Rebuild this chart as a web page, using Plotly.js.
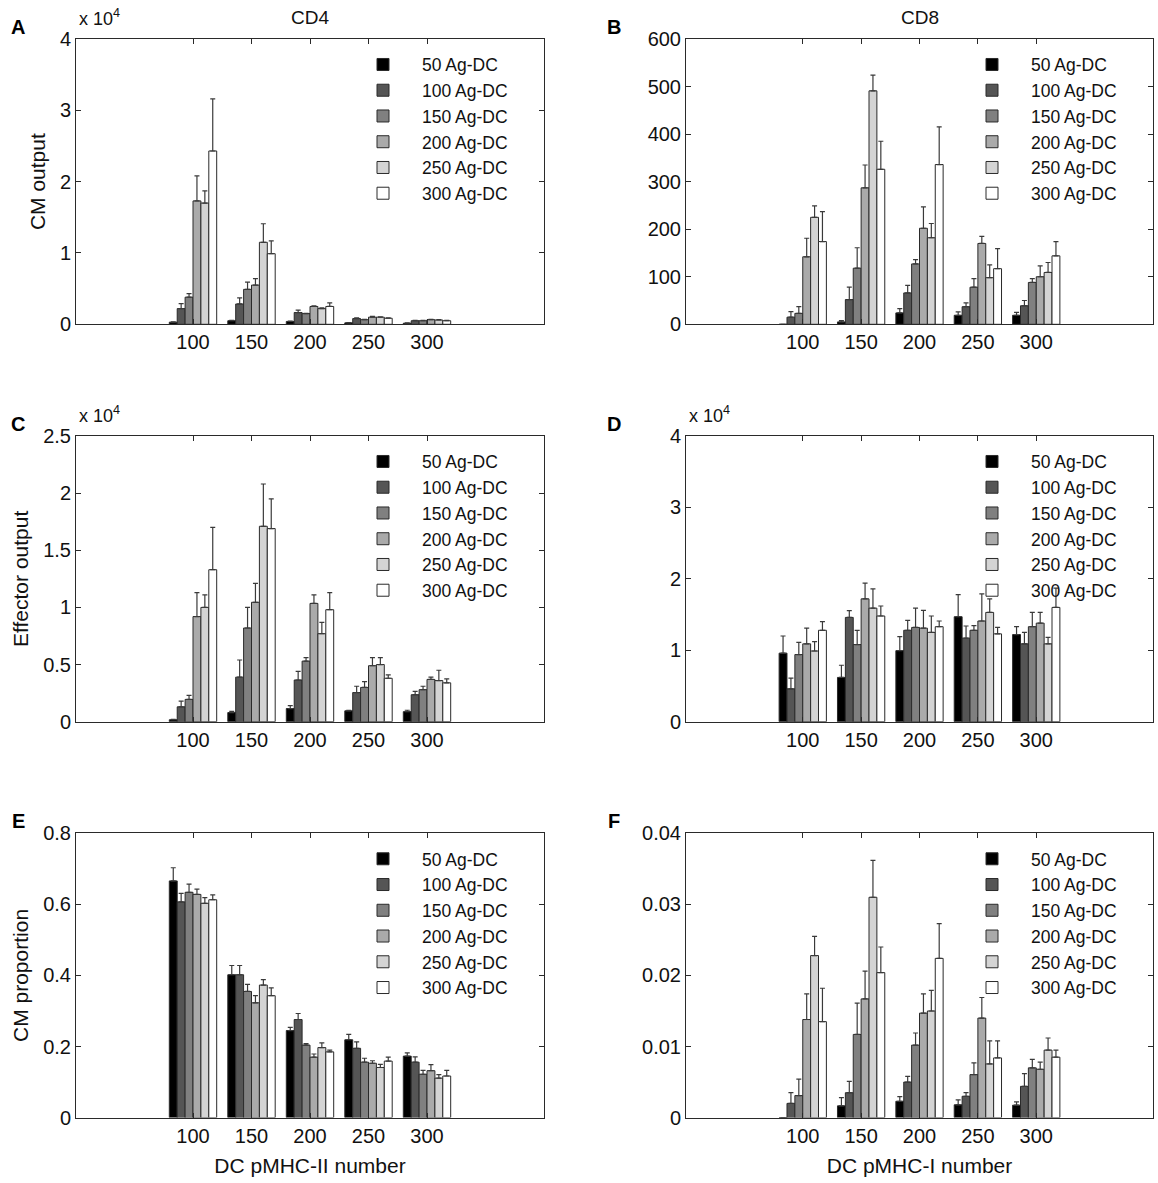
<!DOCTYPE html>
<html>
<head>
<meta charset="utf-8">
<script src="https://cdn.plot.ly/plotly-3.0.1.min.js"></script>
<style>html,body{margin:0;padding:0;background:#fff;}#chart{width:1158px;height:1183px;}</style>
</head>
<body>
<div id="chart"></div>
<script>
// ---------- data ----------
const groups = ['100', '150', '200', '250', '300'];
const seriesNames = ['50 Ag-DC', '100 Ag-DC', '150 Ag-DC', '200 Ag-DC', '250 Ag-DC', '300 Ag-DC'];
const seriesColors = ['#000000', '#555555', '#808080', '#aaaaaa', '#d4d4d4', '#ffffff'];

// A: CD4 CM output (x 10^4), rows = series, columns = groups
const cmCD4 = [
  [0.03, 0.05, 0.04, 0.02, 0.015],
  [0.22, 0.285, 0.165, 0.08, 0.05],
  [0.38, 0.49, 0.15, 0.065, 0.05],
  [1.73, 0.55, 0.25, 0.10, 0.065],
  [1.70, 1.15, 0.22, 0.10, 0.06],
  [2.43, 0.99, 0.25, 0.085, 0.05]
];
const cmCD4Err = [
  [0.005, 0.005, 0.005, 0.005, 0.005],
  [0.07, 0.085, 0.035, 0.01, 0.005],
  [0.05, 0.10, 0.005, 0.005, 0.005],
  [0.35, 0.09, 0.01, 0.01, 0.005],
  [0.17, 0.26, 0.01, 0.005, 0.005],
  [0.73, 0.18, 0.05, 0.005, 0.005]
];

// B: CD8 CM output
const cmCD8 = [
  [0, 5, 24, 19, 19],
  [15, 52, 66, 37, 39],
  [23, 118, 127, 78, 88],
  [142, 287, 202, 170, 100],
  [225, 491, 182, 98, 109],
  [174, 326, 336, 117, 144]
];
const cmCD8Err = [
  [0, 3, 9, 7, 6],
  [11.5, 26, 16, 8, 11],
  [14, 43, 9, 18, 8],
  [39, 48, 45, 15, 23],
  [24, 33, 30, 27, 21],
  [63, 59, 79, 42, 30]
];

// C: CD4 effector output (x 10^4)
const effCD4 = [
  [0.017, 0.08, 0.115, 0.095, 0.088],
  [0.13, 0.39, 0.365, 0.255, 0.236],
  [0.195, 0.82, 0.53, 0.30, 0.28],
  [0.92, 1.045, 1.035, 0.49, 0.37],
  [1.00, 1.71, 0.77, 0.50, 0.36],
  [1.33, 1.69, 0.98, 0.38, 0.34]
];
const effCD4Err = [
  [0.003, 0.01, 0.025, 0.005, 0.012],
  [0.05, 0.15, 0.075, 0.055, 0.03],
  [0.035, 0.18, 0.03, 0.05, 0.03],
  [0.21, 0.165, 0.075, 0.07, 0.02],
  [0.11, 0.37, 0.10, 0.06, 0.09],
  [0.37, 0.26, 0.15, 0.03, 0.035]
];

// D: CD8 effector output (x 10^4)
const effCD8 = [
  [0.96, 0.62, 0.995, 1.47, 1.22],
  [0.46, 1.46, 1.28, 1.17, 1.09],
  [0.94, 1.08, 1.32, 1.28, 1.33],
  [1.09, 1.72, 1.31, 1.41, 1.38],
  [0.99, 1.59, 1.25, 1.53, 1.09],
  [1.28, 1.48, 1.33, 1.23, 1.60]
];
const effCD8Err = [
  [0.24, 0.17, 0.195, 0.31, 0.11],
  [0.15, 0.095, 0.14, 0.17, 0.16],
  [0.17, 0.20, 0.27, 0.065, 0.20],
  [0.22, 0.22, 0.25, 0.38, 0.15],
  [0.13, 0.27, 0.23, 0.19, 0.09],
  [0.12, 0.14, 0.08, 0.09, 0.27]
];

// E: CD4 CM proportion
const propCD4 = [
  [0.666, 0.402, 0.245, 0.219, 0.173],
  [0.607, 0.402, 0.276, 0.195, 0.156],
  [0.634, 0.355, 0.204, 0.156, 0.122],
  [0.628, 0.323, 0.170, 0.153, 0.132],
  [0.603, 0.373, 0.197, 0.141, 0.111],
  [0.613, 0.343, 0.185, 0.159, 0.117]
];
const propCD4Err = [
  [0.037, 0.026, 0.009, 0.015, 0.009],
  [0.024, 0.026, 0.017, 0.018, 0.015],
  [0.023, 0.020, 0.004, 0.011, 0.011],
  [0.015, 0.020, 0.009, 0.007, 0.017],
  [0.016, 0.015, 0.013, 0.009, 0.010],
  [0.014, 0.022, 0.005, 0.011, 0.016]
];

// F: CD8 CM proportion
const propCD8 = [
  [0, 0.00165, 0.0023, 0.0018, 0.00175],
  [0.0020, 0.0035, 0.0050, 0.0030, 0.0044],
  [0.0031, 0.0117, 0.0102, 0.00605, 0.0070],
  [0.0138, 0.0167, 0.0147, 0.0140, 0.0068],
  [0.0228, 0.0310, 0.0150, 0.00755, 0.0095],
  [0.0135, 0.0204, 0.0224, 0.0084, 0.0085]
];
const propCD8Err = [
  [0, 0.00115, 0.00065, 0.0007, 0.00045],
  [0.0015, 0.0016, 0.0008, 0.0005, 0.0018],
  [0.0023, 0.0044, 0.0017, 0.00165, 0.0012],
  [0.0036, 0.0039, 0.0027, 0.0029, 0.0010],
  [0.0027, 0.0052, 0.0029, 0.00325, 0.0017],
  [0.0047, 0.0036, 0.0049, 0.0024, 0.0010]
];

// ---------- layout ----------
const W = 1158, H = 1183;
const FONT = 'Liberation Sans, Arial, Helvetica, sans-serif';
const AXC = '#2a2a2a';
const colPx = [[76, 544], [686, 1153]];
const rowPx = [[39, 324.3], [436, 721.7], [833.3, 1117.6]];

const panels = [
  {vals: cmCD4, err: cmCD4Err, col: 0, row: 0, range: [0, 4], dtick: 1, ytitle: 'CM output', letter: 'A', exp: true},
  {vals: cmCD8, err: cmCD8Err, col: 1, row: 0, range: [0, 600], dtick: 100, letter: 'B', exp: false},
  {vals: effCD4, err: effCD4Err, col: 0, row: 1, range: [0, 2.5], dtick: 0.5, ytitle: 'Effector output', letter: 'C', exp: true},
  {vals: effCD8, err: effCD8Err, col: 1, row: 1, range: [0, 4], dtick: 1, letter: 'D', exp: true},
  {vals: propCD4, err: propCD4Err, col: 0, row: 2, range: [0, 0.8], dtick: 0.2, ytitle: 'CM proportion', letter: 'E', exp: false, xtitle: 'DC pMHC-II number'},
  {vals: propCD8, err: propCD8Err, col: 1, row: 2, range: [0, 0.04], dtick: 0.01, letter: 'F', exp: false, xtitle: 'DC pMHC-I number'}
];

const traces = [];
const layout = {
  width: W, height: H,
  margin: {l: 0, r: 0, t: 0, b: 0},
  paper_bgcolor: '#ffffff', plot_bgcolor: '#ffffff',
  font: {family: FONT, size: 20, color: '#111'},
  barmode: 'group', bargap: 0.19, bargroupgap: 0,
  annotations: [],
  showlegend: true
};

panels.forEach((p, k) => {
  const n = k + 1;
  const xa = n === 1 ? 'x' : 'x' + n;
  const ya = n === 1 ? 'y' : 'y' + n;
  const lg = n === 1 ? 'legend' : 'legend' + n;
  const xd = [colPx[p.col][0] / W, colPx[p.col][1] / W];
  const yd = [1 - rowPx[p.row][1] / H, 1 - rowPx[p.row][0] / H];

  p.vals.forEach((v, i) => {
    traces.push({
      type: 'bar', name: seriesNames[i], x: groups, y: v,
      xaxis: xa, yaxis: ya, legend: lg,
      marker: {color: seriesColors[i], line: {color: AXC, width: 1}},
      error_y: {type: 'data', symmetric: false, array: p.err[i], arrayminus: groups.map(() => 0),
                color: '#3a3a3a', thickness: 1.2, width: 2.5},
      hoverinfo: 'x+y+name'
    });
  });

  const axBase = {
    showline: true, linecolor: AXC, linewidth: 1, mirror: 'ticks',
    ticks: 'inside', ticklen: 5, tickwidth: 1, tickcolor: AXC,
    showgrid: false, zeroline: false, automargin: false,
    tickfont: {family: FONT, size: 20, color: '#111'}, fixedrange: true
  };
  const xaxis = Object.assign({}, axBase, {
    domain: xd, anchor: ya, type: 'category', categoryorder: 'array', categoryarray: groups,
    range: [-2, 6]
  });
  if (p.xtitle) xaxis.title = {text: p.xtitle, font: {family: FONT, size: 21, color: '#111'}, standoff: 12};
  layout['xaxis' + (n === 1 ? '' : n)] = xaxis;

  const yaxis = Object.assign({}, axBase, {
    domain: yd, anchor: xa, range: p.range, dtick: p.dtick, tick0: 0
  });
  if (p.ytitle) yaxis.title = {text: p.ytitle, font: {family: FONT, size: 21, color: '#111'}, standoff: 8};
  layout['yaxis' + (n === 1 ? '' : n)] = yaxis;

  layout[lg] = {
    x: (colPx[p.col][1] - 200) / W, xanchor: 'left',
    y: 1 - (rowPx[p.row][0] + 7.6) / H, yanchor: 'top',
    bgcolor: 'rgba(0,0,0,0)', borderwidth: 0, itemwidth: 68,
    font: {family: FONT, size: 17.5, color: '#111'}, traceorder: 'normal'
  };

  // panel letter
  layout.annotations.push({
    text: '<b>' + p.letter + '</b>', xref: 'paper', yref: 'paper',
    x: (p.col === 0 ? 18 : 614) / W, y: 1 - (rowPx[p.row][0] - 12) / H,
    xanchor: 'center', yanchor: 'middle', showarrow: false,
    font: {family: FONT, size: 20, color: '#000'}
  });
  if (p.exp) {
    layout.annotations.push({
      text: 'x 10<sup>4</sup>', xref: 'paper', yref: 'paper',
      x: (colPx[p.col][0] + 1) / W, y: 1 - (rowPx[p.row][0] - 8) / H,
      xanchor: 'left', yanchor: 'bottom', showarrow: false,
      font: {family: FONT, size: 18, color: '#111'}
    });
  }
});

// column titles
['CD4', 'CD8'].forEach((t, c) => {
  layout.annotations.push({
    text: t, xref: 'paper', yref: 'paper',
    x: (colPx[c][0] + colPx[c][1]) / 2 / W, y: 1 - 17 / H,
    xanchor: 'center', yanchor: 'middle', showarrow: false,
    font: {family: FONT, size: 19, color: '#111'}
  });
});

Plotly.newPlot('chart', traces, layout, {displayModeBar: false, staticPlot: true});
</script>
</body>
</html>
